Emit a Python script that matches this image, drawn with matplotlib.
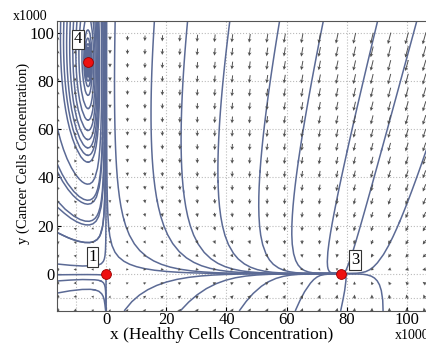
import numpy as np
from matplotlib import pyplot as plt

plt.rcParams['font.family'] = ['Liberation Serif', 'DejaVu Serif']

# model parameters (x, y in units of 1000 cells)
r_growth = 1.0
K_healthy = 78.0
x_star, y_star = -6.0, 88.0
a_comp = r_growth * (1 - x_star / K_healthy) / y_star
b_decay = r_growth / 15.0

# equilibria shown on the chart
eq_x = [0, 78, -6]
eq_y = [0, 0, 88]
eq_labels = ['1', '3', '4']
label_x = [-4.5, 82.7, -9.3]
label_y = [7.0, 5.7, 97.4]

# streamline seeds
seed_x = [-1.6, -1.0, -0.5, -0.2, 0.2, 3, 16, 27, 41, 57.5, 72, 90, 103,
          0.0, 6.3, 25, 44.5, 63, 78, 92,
          -16, -16, -16, -16, -16, -16, 106,
          -15, -14, -13, -12, -11, -10, -9, -8]
seed_y = [104, 104, 104, 104, 104, 104, 104, 104, 104, 104, 104, 104, 104,
          -15, -15, -15, -15, -15, -15, -15,
          45, 30, 17, 4, -3, -8, 50,
          88, 88, 88, 88, 88, 88, 88, 88]

xmin, xmax = -16.3, 106.6
ymin, ymax = -15.5, 105.0


def field(x, y):
    u = x * (r_growth * (1 - x / K_healthy) - a_comp * y)
    v = -b_decay * y * (x - x_star)
    return u, v


fig = plt.figure(figsize=(4.27, 3.43), dpi=100)
ax = fig.add_axes([0.1335, 0.0933, 0.8665, 0.8455])

gx = np.linspace(xmin, xmax, 300)
gy = np.linspace(ymin, ymax, 300)
GX, GY = np.meshgrid(gx, gy)
U, V = field(GX, GY)
ax.streamplot(GX, GY, U, V, start_points=np.column_stack([seed_x, seed_y]),
              color='#5b6a95', linewidth=1.1, arrowstyle='-',
              broken_streamlines=False, maxlength=12.0,
              integration_direction='both')

# arrow grid
ax_px_x, ax_px_y = 3.01, 2.41
qx = np.arange(1.3 - 5.8 * 3, xmax, 5.8)
qy = np.arange(97.8, ymin, -5.65)
QX, QY = np.meshgrid(qx, qy)
QU, QV = field(QX, QY)
pu, pv = QU * ax_px_x, QV * ax_px_y
mag = np.hypot(pu, pv)
L = 2.0 + 10.5 * (mag / mag.max()) ** 0.6
QU = pu / mag * L / ax_px_x
QV = pv / mag * L / ax_px_y
ax.quiver(QX, QY, QU, QV, angles='xy', scale_units='xy', scale=1,
          pivot='mid', color='#505050', width=0.0026, headwidth=4,
          headlength=4, headaxislength=3.2, zorder=3)

ax.scatter(eq_x, eq_y, s=50, c='#ee1111', edgecolors='#990000',
           linewidths=0.6, zorder=5)
for lx, ly, t in zip(label_x, label_y, eq_labels):
    ax.text(lx, ly, t, fontsize=12, ha='center', va='center', zorder=6,
            bbox=dict(boxstyle='square,pad=0.1', fc='white', ec='#333333', lw=0.8))

ticks = [0, 20, 40, 60, 80, 100]
grid_vals = [-10, 0, 20, 40, 60, 80, 100]
for g in grid_vals:
    ax.axvline(g, color='#bbbbbb', ls=':', lw=0.8, zorder=0)
    ax.axhline(g, color='#bbbbbb', ls=':', lw=0.8, zorder=0)
ax.set_xticks(ticks)
ax.set_yticks(ticks)
ax.tick_params(direction='in', labelsize=12, length=3, pad=2)
ax.tick_params(axis='x', pad=0.5)
ax.set_xlim(xmin, xmax)
ax.set_ylim(ymin, ymax)
for s in ax.spines.values():
    s.set_color('#555555')

ax.set_xlabel('x (Healthy Cells Concentration)', fontsize=12.5)
ax.xaxis.set_label_coords(0.446, -0.054)
ax.set_ylabel('y (Cancer Cells Concentration)', fontsize=10.5)
ax.yaxis.set_label_coords(-0.072, 0.545)
fig.text(0.03, 0.953, 'x1000', fontsize=10, ha='left', va='center')
fig.text(0.925, 0.022, 'x1000', fontsize=10, ha='left', va='center')

fig.savefig('out.png', dpi=100)
